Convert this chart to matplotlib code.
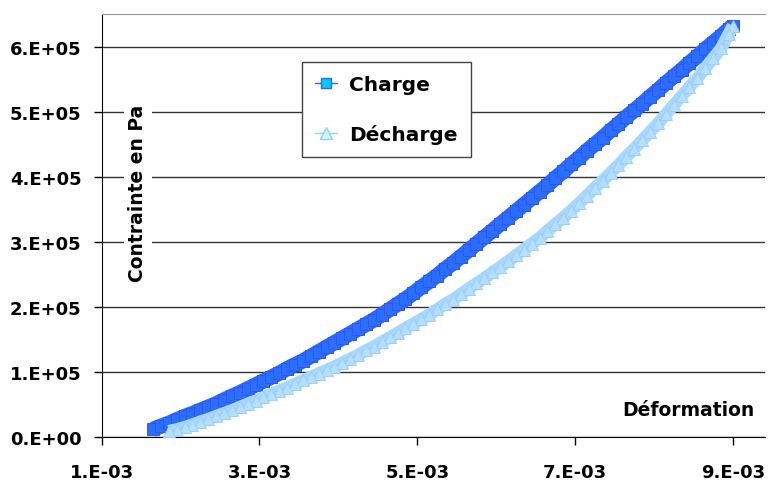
import matplotlib
matplotlib.use("Agg")
import matplotlib.pyplot as plt
import numpy as np
from matplotlib.lines import Line2D

plt.rcParams['font.family'] = ['DejaVu Sans']

# deformation in 1e-3, contrainte in 1e5 Pa
deformation_charge = [
    1.65, 1.75, 1.85, 1.95, 2.05, 2.15, 2.25, 2.35, 2.45, 2.55,
    2.65, 2.75, 2.85, 2.95, 3.05, 3.15, 3.25, 3.35, 3.45, 3.55,
    3.65, 3.75, 3.85, 3.95, 4.05, 4.15, 4.25, 4.35, 4.45, 4.55,
    4.65, 4.75, 4.85, 4.95, 5.05, 5.15, 5.25, 5.35, 5.45, 5.55,
    5.65, 5.75, 5.85, 5.95, 6.05, 6.15, 6.25, 6.35, 6.45, 6.55,
    6.65, 6.75, 6.85, 6.95, 7.05, 7.15, 7.25, 7.35, 7.45, 7.55,
    7.65, 7.75, 7.85, 7.95, 8.05, 8.15, 8.25, 8.35, 8.45, 8.55,
    8.65, 8.75, 8.85, 8.95, 9.00,
]
contrainte_charge = [
    0.12, 0.165, 0.21, 0.265, 0.315, 0.36, 0.41, 0.46, 0.51, 0.57,
    0.625, 0.68, 0.74, 0.80, 0.86, 0.92, 0.98, 1.05, 1.11, 1.17,
    1.24, 1.31, 1.38, 1.45, 1.52, 1.59, 1.66, 1.73, 1.80, 1.88,
    1.96, 2.04, 2.12, 2.21, 2.30, 2.39, 2.48, 2.58, 2.67, 2.77,
    2.87, 2.97, 3.07, 3.17, 3.27, 3.37, 3.47, 3.57, 3.67, 3.77,
    3.87, 3.98, 4.08, 4.19, 4.29, 4.40, 4.50, 4.60, 4.71, 4.81,
    4.92, 5.02, 5.12, 5.23, 5.33, 5.44, 5.54, 5.64, 5.75, 5.85,
    5.96, 6.06, 6.16, 6.27, 6.32,
]

# unloading goes from the top point back down
deformation_decharge = [
    9.00, 8.95, 8.85, 8.75, 8.65, 8.55, 8.45, 8.35, 8.25, 8.15,
    8.05, 7.95, 7.85, 7.75, 7.65, 7.55, 7.45, 7.35, 7.25, 7.15,
    7.05, 6.95, 6.85, 6.75, 6.65, 6.55, 6.45, 6.35, 6.25, 6.15,
    6.05, 5.95, 5.85, 5.75, 5.65, 5.55, 5.45, 5.35, 5.25, 5.15,
    5.05, 4.95, 4.85, 4.75, 4.65, 4.55, 4.45, 4.35, 4.25, 4.15,
    4.05, 3.95, 3.85, 3.75, 3.65, 3.55, 3.45, 3.35, 3.25, 3.15,
    3.05, 2.95, 2.85, 2.75, 2.65, 2.55, 2.45, 2.35, 2.25, 2.15,
    2.05, 1.95, 1.85,
]
contrainte_decharge = [
    6.32, 6.20, 5.97, 5.82, 5.67, 5.52, 5.38, 5.24, 5.10, 4.96,
    4.82, 4.69, 4.56, 4.43, 4.31, 4.18, 4.06, 3.94, 3.83, 3.71,
    3.59, 3.48, 3.37, 3.27, 3.17, 3.06, 2.97, 2.88, 2.79, 2.70,
    2.61, 2.53, 2.44, 2.36, 2.28, 2.19, 2.11, 2.04, 1.96, 1.88,
    1.81, 1.74, 1.67, 1.60, 1.53, 1.46, 1.39, 1.33, 1.26, 1.20,
    1.14, 1.08, 1.03, 0.975, 0.92, 0.87, 0.815, 0.76, 0.71, 0.66,
    0.61, 0.555, 0.51, 0.46, 0.41, 0.365, 0.32, 0.275, 0.235, 0.19,
    0.15, 0.115, 0.09,
]

x_ticks = [1e-3, 3e-3, 5e-3, 7e-3, 9e-3]
x_tick_labels = ['1.E-03', '3.E-03', '5.E-03', '7.E-03', '9.E-03']
y_ticks = [0, 1e5, 2e5, 3e5, 4e5, 5e5, 6e5]
y_tick_labels = ['0.E+00', '1.E+05', '2.E+05', '3.E+05', '4.E+05', '5.E+05', '6.E+05']

fig = plt.figure(figsize=(7.68, 4.81), dpi=100)
ax = fig.add_axes([0.1324, 0.0894, 0.8637, 0.8794])

xc = np.array(deformation_charge) * 1e-3
yc = np.array(contrainte_charge) * 1e5
xd = np.array(deformation_decharge) * 1e-3
yd = np.array(contrainte_decharge) * 1e5

# dense markers in the original merge into a thick band
ax.plot(xc, yc, color='#2A68FF', linewidth=11, solid_capstyle='butt', zorder=3)
ax.plot(xc, yc, color='#3366FF', linewidth=1, marker='s', markersize=8.5,
        markerfacecolor='#2A6EFF', markeredgecolor='#3157EE', markeredgewidth=0.7, zorder=3)
ax.plot(xd, yd, color='#A8D8FF', linewidth=9, solid_capstyle='butt', zorder=4)
ax.plot(xd, yd, color='#99CCFF', linewidth=1, marker='^', markersize=9,
        markerfacecolor='#B4E0FF', markeredgecolor='#9CCEFF', markeredgewidth=0.7, zorder=4)

ax.set_xlim(1e-3, 9.407e-3)
ax.set_ylim(0, 6.5e5)
ax.set_xticks(x_ticks)
ax.set_xticklabels(x_tick_labels)
ax.set_yticks(y_ticks)
ax.set_yticklabels(y_tick_labels)
for lbl in ax.get_xticklabels() + ax.get_yticklabels():
    lbl.set_fontweight('bold')
    lbl.set_fontsize(13)
ax.tick_params(axis='x', direction='out', length=6, width=1, pad=13)
ax.tick_params(axis='y', direction='out', length=6, width=1, pad=8.5)

ax.grid(True, axis='y', color='#333333', linewidth=1)
ax.set_axisbelow(True)
ax.spines['right'].set_visible(False)
ax.spines['top'].set_color('#999999')
ax.spines['left'].set_color('black')
ax.spines['bottom'].set_color('black')

ax.text(0.0547, 0.579, 'Contrainte en Pa', transform=ax.transAxes, rotation=90,
        ha='center', va='center', fontsize=13.5, fontweight='bold',
        bbox=dict(facecolor='white', edgecolor='none', pad=3), zorder=5)
ax.text(0.885, 0.066, 'Déformation', transform=ax.transAxes,
        ha='center', va='center', fontsize=13.5, fontweight='bold', zorder=5)

handles = [
    Line2D([], [], color='#3366FF', linewidth=1, marker='s', markersize=7,
           markerfacecolor='#00CCFF', markeredgecolor='#3366FF'),
    Line2D([], [], color='#99CCFF', linewidth=1, marker='^', markersize=8,
           markerfacecolor='#CCFFFF', markeredgecolor='#99CCFF'),
]
leg = fig.legend(handles, ['Charge', 'Décharge'], loc='upper left',
                 bbox_to_anchor=(302 / 768, 1 - 63 / 481), borderaxespad=0,
                 prop={'size': 14.5, 'weight': 'bold'}, fancybox=False,
                 framealpha=1, edgecolor='#444444', handlelength=1.1,
                 handletextpad=0.6, labelspacing=1.5, borderpad=0.65)
leg.get_frame().set_linewidth(1)

fig.savefig('out.png', dpi=100)
